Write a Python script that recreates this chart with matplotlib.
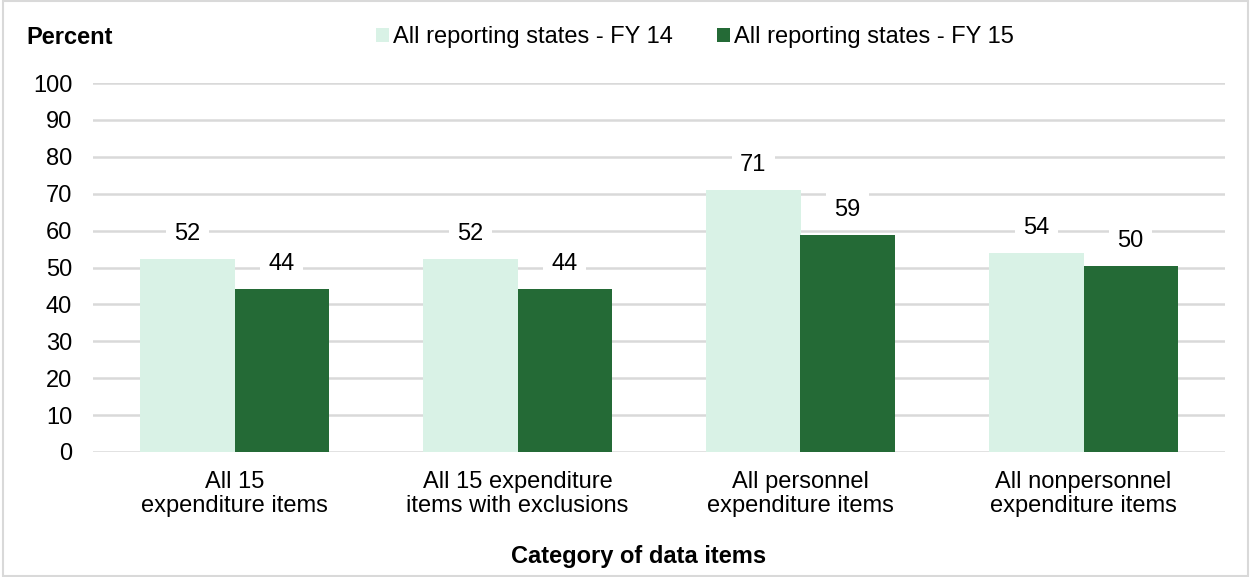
import matplotlib.pyplot as plt
import numpy as np
from matplotlib.patches import Rectangle

plt.rcParams['font.family'] = ['Liberation Sans', 'DejaVu Sans']

categories = ["All 15\nexpenditure items",
              "All 15 expenditure\nitems with exclusions",
              "All personnel\nexpenditure items",
              "All nonpersonnel\nexpenditure items"]
fy14 = [52.4, 52.4, 71.0, 53.8]
fy15 = [44.1, 44.1, 58.9, 50.4]
fy14_labels = ["52", "52", "71", "54"]
fy15_labels = ["44", "44", "59", "50"]
series_names = ["All reporting states - FY 14", "All reporting states - FY 15"]

light = '#D9F2E6'
dark = '#246A36'
grid_c = '#D9D9D9'
fs = 17

fig = plt.figure(figsize=(12.5, 5.77), dpi=100)
ax = fig.add_axes([93/1250, 1 - 452/577, 1132/1250, 369/577])

x = np.arange(len(categories))
w = 1/3
b1 = ax.bar(x - w/2, fy14, w, color=light, label=series_names[0], zorder=2)
b2 = ax.bar(x + w/2, fy15, w, color=dark, label=series_names[1], zorder=2)

# value labels sit on a white box that cuts the gridline
for bars, labs in ((b1, fy14_labels), (b2, fy15_labels)):
    for r, t in zip(bars, labs):
        ax.annotate(t, (r.get_x() + r.get_width()/2, r.get_height()),
                    xytext=(0, 18), textcoords='offset points',
                    ha='center', va='center', fontsize=fs, zorder=3,
                    bbox=dict(boxstyle='square,pad=0.35', fc='white', ec='none'))

ax.set_xlim(-0.5, 3.5)
ax.set_ylim(0, 100)
ax.set_yticks(range(0, 101, 10))
ax.set_xticks(x)
ax.set_xticklabels(categories, fontsize=fs, linespacing=1.1)
ax.tick_params(axis='y', labelsize=fs, length=0, pad=15)
ax.tick_params(axis='x', length=0, pad=14)
ax.yaxis.grid(True, color=grid_c, linewidth=1.8, zorder=0)
ax.set_axisbelow(True)
for s in ax.spines.values():
    s.set_visible(False)

fig.text(639/1250, 1 - 556/577, "Category of data items", fontsize=fs,
         fontweight='bold', ha='center', va='center')
fig.text(26/1250, 1 - 37/577, "Percent", fontsize=fs, fontweight='bold', va='center')

fig.legend(loc='center', bbox_to_anchor=(695/1250, 1 - 37/577), ncol=2, frameon=False,
           fontsize=fs, handlelength=0.55, handleheight=0.55, handletextpad=0.15,
           columnspacing=1.9, borderpad=0)

fig.patches.append(Rectangle((0.002, 0.002), 0.996, 0.996, transform=fig.transFigure,
                             fill=False, ec='#D9D9D9', lw=1.5))

fig.savefig('out.png', dpi=100)
